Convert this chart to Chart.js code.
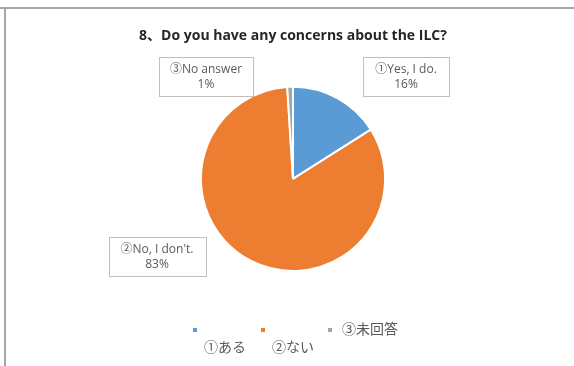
<!DOCTYPE html>
<html>
<head>
<meta charset="utf-8">
<script src="https://cdn.jsdelivr.net/npm/chart.js@4/dist/chart.umd.min.js"></script>
<style>
html, body { margin: 0; padding: 0; background: #fff; }
#wrap { position: relative; width: 574px; height: 366px; }
#wrap:before { content: ''; position: absolute; left: 0; top: 7px; width: 574px; height: 2px; background: #a6a6a6; }
#wrap:after { content: ''; position: absolute; left: 4px; top: 7px; width: 2px; height: 359px; background: #a6a6a6; }
</style>
</head>
<body>
<div id="wrap"><canvas id="pie" width="574" height="366"></canvas></div>
<script>
const titleText = '8、Do you have any concerns about the ILC?';
const categories = ['①ある', '②ない', '③未回答'];
const answerLabels = ['①Yes, I do.', '②No, I don\'t.', '③No answer'];
const shares = [16, 83, 1];
const sliceColors = ['#5b9bd5', '#ed7d31', '#a5a5a5'];

const fontFamily = "'Open Sans', 'Noto Sans CJK JP', sans-serif";
const textColor = '#595959';

// boxed data labels, placed relative to the pie centre (like Excel's best fit)
const boxLabels = {
    id: 'boxLabels',
    afterDatasetsDraw(chart, args, opts) {
        const ctx = chart.ctx;
        const meta = chart.getDatasetMeta(0);
        const total = shares.reduce((a, b) => a + b, 0);
        ctx.save();
        ctx.font = '12px ' + fontFamily;
        ctx.textAlign = 'center';
        ctx.textBaseline = 'middle';
        meta.data.forEach(function(arc, i) {
            const off = opts.offsets[i];
            const cx = arc.x + off[0];
            const cy = arc.y + off[1];
            const w = opts.widths[i], h = 39;
            ctx.fillStyle = '#fff';
            ctx.fillRect(cx - w / 2, cy - h / 2, w, h);
            ctx.strokeStyle = '#bfbfbf';
            ctx.lineWidth = 1;
            ctx.strokeRect(Math.round(cx - w / 2) + 0.5, Math.round(cy - h / 2) + 0.5, w, h);
            ctx.fillStyle = textColor;
            ctx.fillText(answerLabels[i], cx, cy - 7);
            ctx.fillText(Math.round(shares[i] / total * 100) + '%', cx, cy + 8);
        });
        ctx.restore();
    }
};

// excel-like legend, first two entries wrap their text under the marker
const wrapLegend = {
    id: 'wrapLegend',
    afterDraw(chart, args, opts) {
        const ctx = chart.ctx;
        ctx.save();
        ctx.font = '14px ' + fontFamily;
        ctx.textBaseline = 'middle';
        categories.forEach(function(name, i) {
            const mx = opts.markerX[i], my = opts.markerY;
            ctx.fillStyle = sliceColors[i];
            ctx.fillRect(mx - 2, my - 2, 4, 4);
            ctx.fillStyle = textColor;
            if (opts.wrap[i]) {
                ctx.fillText(name, mx + 9, my + 18);
            } else {
                ctx.fillText(name, mx + 12, my);
            }
        });
        ctx.restore();
    }
};

new Chart(document.getElementById('pie'), {
    type: 'pie',
    data: {
        labels: categories,
        datasets: [{
            data: shares,
            backgroundColor: sliceColors,
            borderColor: '#ffffff',
            borderWidth: 2
        }]
    },
    options: {
        responsive: false,
        animation: false,
        layout: { padding: { top: 0, bottom: 94, left: 100, right: 88 } },
        plugins: {
            legend: { display: false },
            tooltip: { enabled: false },
            title: {
                display: true,
                text: titleText,
                color: '#262626',
                font: { family: fontFamily, size: 14, weight: 'bold' },
                padding: { top: 28, bottom: 41 }
            },
            boxLabels: {
                offsets: [[113, -102], [-136, 78], [-87, -102]],
                widths: [86, 97, 94]
            },
            wrapLegend: {
                markerX: [195, 263, 330],
                markerY: 330,
                wrap: [true, true, false]
            }
        }
    },
    plugins: [boxLabels, wrapLegend]
});
</script>
</body>
</html>
